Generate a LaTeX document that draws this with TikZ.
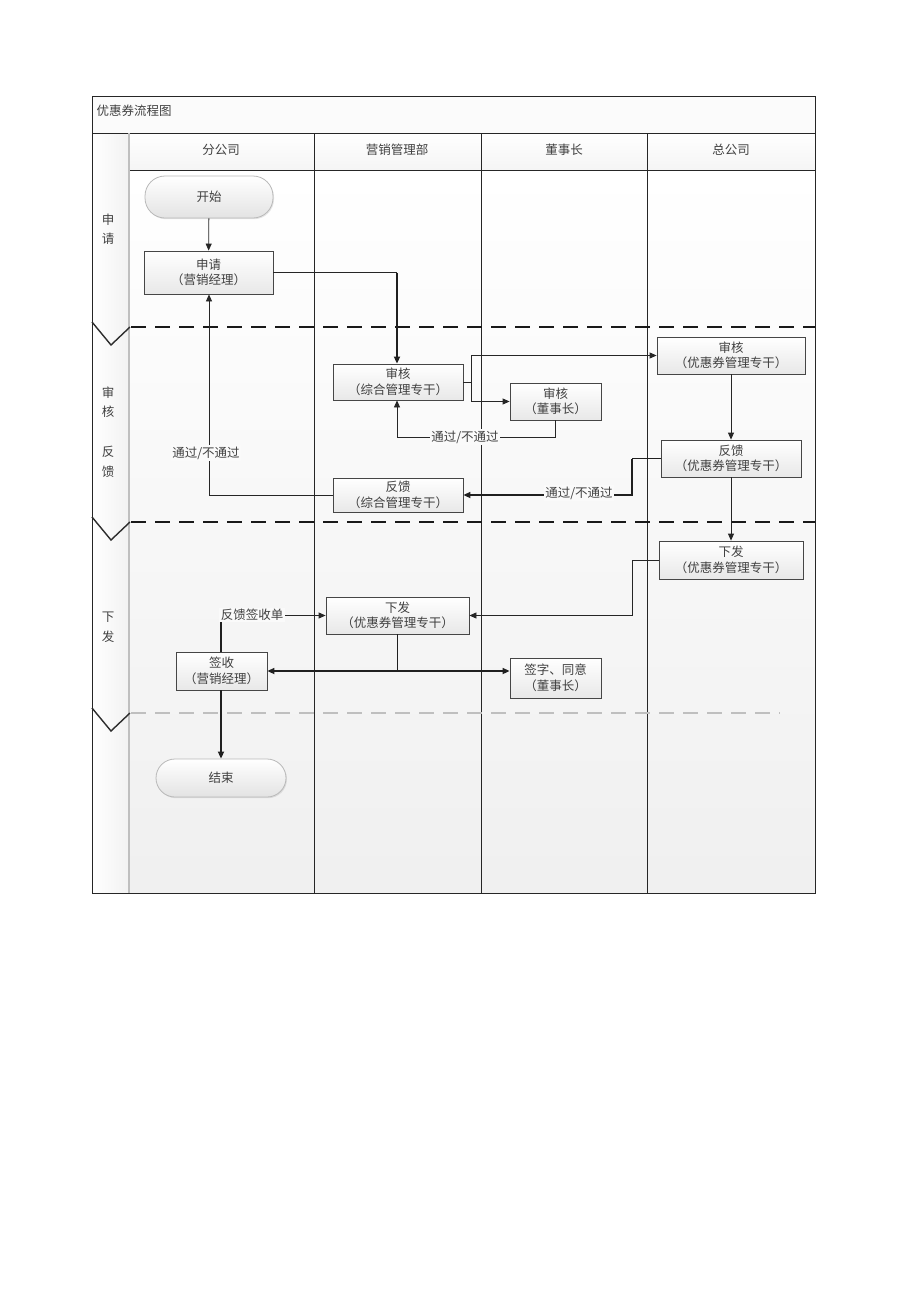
\documentclass[tikz,border=0pt]{standalone}
\usepackage{fontspec}
\setmainfont{Noto Sans CJK SC}
\usetikzlibrary{arrows.meta,shadows}
\newcommand\lblfont{\fontsize{12.5}{15.5}\selectfont}
\begin{document}
\begin{tikzpicture}[x=1pt,y=-1pt,
  every node/.style={font=\lblfont, text=black!75},
  box/.style={draw=gray!55!black, line width=0.8pt, top color=white, bottom color=gray!18,
     align=center, inner sep=0pt, drop shadow={shadow xshift=1.2pt,shadow yshift=-1.2pt,opacity=0.25}},
  pill/.style={draw=gray!55, line width=0.8pt, top color=white, bottom color=gray!22,
     align=center, inner sep=0pt, drop shadow={shadow xshift=1pt,shadow yshift=-1.2pt,opacity=0.2}},
  con/.style={draw=gray!30!black, line width=0.8pt},
  conb/.style={draw=gray!25!black, line width=1.6pt},
  arr/.style={-{Triangle[length=7pt,width=6pt]}},
  lab/.style={fill=white!96!gray, inner sep=1.5pt},
  lane/.style={draw=gray!30!black, line width=0.8pt},
  sepb/.style={draw=gray!20!black, line width=2.4pt, dash pattern=on 15pt off 9pt},
  sept/.style={draw=gray!50, line width=1.4pt, dash pattern=on 15pt off 9pt},
  chev/.style={draw=gray!35!black, line width=1.4pt}]
\useasboundingbox (0,0) rectangle (920,1304);
% backgrounds
\shade[top color=white, bottom color=gray!12] (128,170) rectangle (815,893);
\shade[left color=white, right color=gray!10] (92,133) rectangle (128,893);
\shade[top color=white, bottom color=gray!8] (128,133) rectangle (815,170);
\fill[white!97!gray] (92,96) rectangle (815,133);
% frame and lanes
\draw[lane] (92,96) rectangle (815,893);
\draw[lane] (92,133) -- (815,133);
\draw[lane] (128,170) -- (815,170);
\draw[draw=gray!50, line width=2pt] (129,133) -- (129,893);
\foreach \x in {314,481,647} \draw[lane] (\x,133) -- (\x,893);
% title and headers
\node[anchor=west] (title) at (93,111) {优惠券流程图};
\node (h1) at (221,150) {分公司};
\node (h2) at (397,150) {营销管理部};
\node (h3) at (564,150) {董事长};
\node (h4) at (731,150) {总公司};
% phase labels
\node[align=center] (p1) at (108,229) {申\\[4pt]请};
\node[align=center] (p2) at (108,402) {审\\[4pt]核};
\node[align=center] (p3) at (108,462) {反\\[4pt]馈};
\node[align=center] (p4) at (108,627) {下\\[4pt]发};
% separators
\draw[sepb] (131,327) -- (815,327);
\draw[sepb] (131,522) -- (815,522);
\draw[sept] (131,713) -- (780,713);
\foreach \y in {327,522,713} \draw[chev] (92,\y-5) -- (111,\y+18) -- (130,\y);
% nodes
\node[pill, rounded corners=20pt, minimum width=128pt, minimum height=42pt] (start) at (209,197) {开始};
\node[box, minimum width=129pt, minimum height=43pt] (sq) at (208.5,272.5) {申请\\（营销经理）};
\node[box, minimum width=130pt, minimum height=36pt] (zh1) at (398,382) {审核\\（综合管理专干）};
\node[box, minimum width=91pt, minimum height=37pt] (ds1) at (555.5,401.5) {审核\\（董事长）};
\node[box, minimum width=148pt, minimum height=37pt] (yh1) at (731,355.5) {审核\\（优惠券管理专干）};
\node[box, minimum width=140pt, minimum height=37pt] (yh2) at (731,458.5) {反馈\\（优惠券管理专干）};
\node[box, minimum width=130pt, minimum height=34pt] (zh2) at (398,495) {反馈\\（综合管理专干）};
\node[box, minimum width=144pt, minimum height=38pt] (yh3) at (731,560) {下发\\（优惠券管理专干）};
\node[box, minimum width=143pt, minimum height=37pt] (zh3) at (397.5,615.5) {下发\\（优惠券管理专干）};
\node[box, minimum width=91pt, minimum height=38pt] (qs) at (221.5,671) {签收\\（营销经理）};
\node[box, minimum width=91pt, minimum height=40pt] (qz) at (555.5,678) {签字、同意\\（董事长）};
\node[pill, rounded corners=19pt, minimum width=130pt, minimum height=38pt] (end) at (221,778) {结束};
% connectors
\draw[con, arr] (start) -- (sq);
\draw[con] (sq.east) -- (397,272.5) coordinate (c1);
\draw[conb, arr] (c1) -- (zh1.north -| c1);
\draw[con] (zh1.east) -- (471,382) coordinate (j1);
\draw[con, arr] (j1) |- (yh1.west);
\draw[con, arr] (j1) |- (ds1.west);
\draw[con, arr] (ds1.south) |- (397,437) coordinate (c2) -- (zh1.south -| c2);
\node[lab] (l1) at (465,437) {通过/不通过};
\draw[con, arr] (yh1) -- (yh2);
\draw[conb] (yh2.west) -- (632,458.5) coordinate (c3);
\draw[conb, arr] (c3) |- (zh2.east);
\node[lab] (l2) at (579,493) {通过/不通过};
\draw[con, arr] (zh2.west) -- (209,495) coordinate (c4) -- (c4 |- sq.south);
\node[lab] (l3) at (206,453) {通过/不通过};
\draw[con, arr] (yh2) -- (yh3);
\draw[con] (yh3.west) -- (632,560) coordinate (c5);
\draw[con, arr] (c5) |- (zh3.east);
\draw[conb] (qs.north -| 221,0) -- (221,615.5) coordinate (c6);
\draw[con, arr] (c6) -- (zh3.west);
\node[lab] (l4) at (252,615) {反馈签收单};
\draw[conb] (zh3.south) -- (397.5,671) coordinate (c7);
\draw[conb, arr] (c7) -- (qs.east);
\draw[conb, arr] (c7) -- (qz.west |- c7);
\draw[conb, arr] (qs.south -| 221,0) -- (end.north -| 221,0);
\end{tikzpicture}
\end{document}
